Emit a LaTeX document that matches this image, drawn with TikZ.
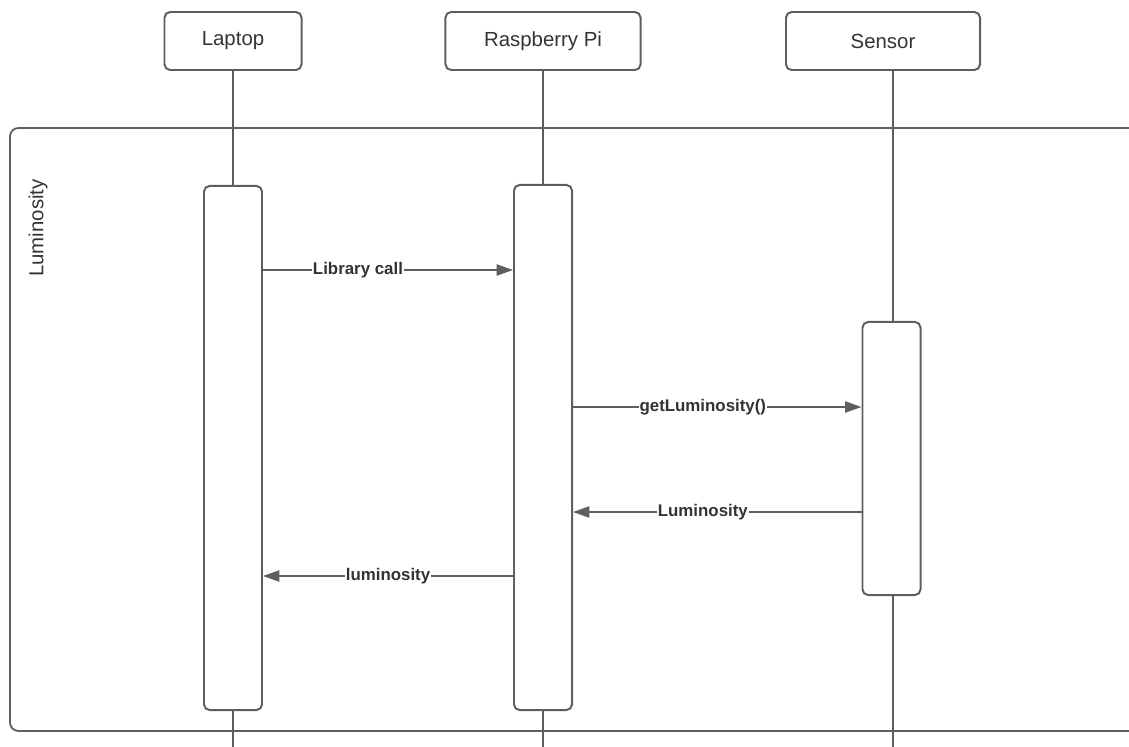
\documentclass[tikz,border=0pt]{standalone}
\usepackage{fontspec}
\setmainfont{Liberation Sans}
\usetikzlibrary{arrows.meta}
\definecolor{linegray}{HTML}{5E5E5E}
\definecolor{textgray}{HTML}{333333}
\tikzset{
  actor/.style={draw=linegray,line width=1.4pt,rounded corners=4pt,fill=white,
    minimum height=1.45cm,text=textgray,font=\fontsize{14.5}{16}\selectfont},
  activation/.style={draw=linegray,line width=1.4pt,rounded corners=4pt,fill=white,
    minimum width=1.45cm},
  lifeline/.style={draw=linegray,line width=1.1pt},
  msg/.style={draw=linegray,line width=1.1pt,-{Triangle[length=4.1mm,width=2.8mm]}},
  msglabel/.style={fill=white,inner sep=0.5pt,text=textgray,
    font=\bfseries\fontsize{12}{14}\selectfont},
}
\begin{document}
\begin{tikzpicture}[x=0.025cm,y=-0.025cm]
    \useasboundingbox (0,0) rectangle (1129,747);
    \clip (0,0) rectangle (1129,747);
    % actors
    \node[actor,minimum width=3.425cm] (laptop) at (233,41) {Laptop};
    \node[actor,minimum width=4.875cm] (pi) at (543,41) {Raspberry Pi};
    \node[actor,minimum width=4.85cm] (sensor) at (883,41) {Sensor};
    \coordinate (laptopend) at (233,747);
    \coordinate (piend) at (543,747);
    \coordinate (sensortop) at (893,70);
    \coordinate (sensorend) at (893,747);
    \draw[lifeline] (laptop.south) -- (laptopend);
    \draw[lifeline] (pi.south) -- (piend);
    \draw[lifeline] (sensortop) -- (sensorend);
    % frame
    \draw[draw=linegray,line width=1.3pt,rounded corners=6pt]
        (1150,128) -- (10,128) -- (10,731) -- (1150,731);
    \node[rotate=90,text=textgray,font=\fontsize{14.5}{16}\selectfont] (framelabel) at (38,228) {Luminosity};
    % activation bars
    \node[activation,minimum height=13.1cm] (laptopbar) at (233,448) {};
    \node[activation,minimum height=13.125cm] (pibar) at (543,447.5) {};
    \node[activation,minimum height=6.825cm] (sensorbar) at (891.5,458.5) {};
    % messages
    \draw[msg] (laptopbar.east |- 0,270) -- node[msglabel,pos=0.38] {Library call} (pibar.west |- 0,270);
    \draw[msg] (pibar.east |- 0,407) -- node[msglabel,pos=0.45] {getLuminosity()} (sensorbar.west |- 0,407);
    \draw[msg] (sensorbar.west |- 0,512) -- node[msglabel,pos=0.55] {Luminosity} (pibar.east |- 0,512);
    \draw[msg] (pibar.west |- 0,576) -- node[msglabel,pos=0.5] {luminosity} (laptopbar.east |- 0,576);
\end{tikzpicture}
\end{document}
